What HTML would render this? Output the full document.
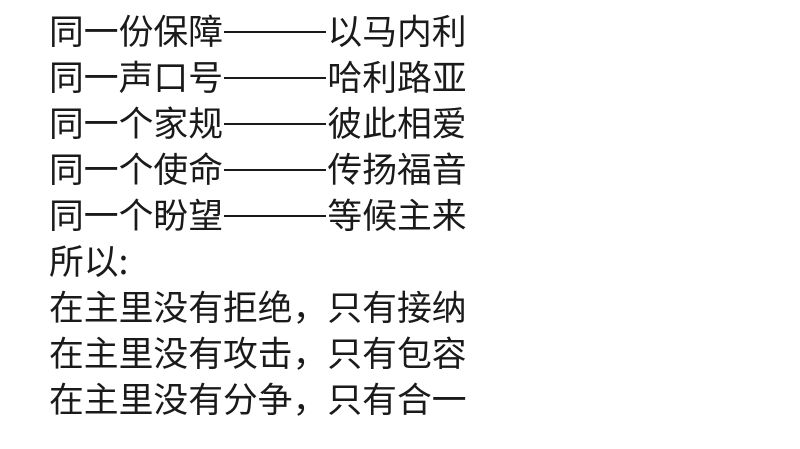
<!DOCTYPE html>
<html><head><meta charset="utf-8"><style>
html,body{margin:0;padding:0;background:#fff;width:800px;height:449px;overflow:hidden}
.t{position:absolute;left:49px;font-family:"Noto Sans CJK SC",sans-serif;font-size:34.8px;line-height:46px;color:#1a1a1a;white-space:nowrap}
.d{display:inline-block;width:104.4px;height:46px;vertical-align:top;position:relative;color:transparent;overflow:hidden}
.d:after{content:"";position:absolute;left:1px;right:1px;top:24px;height:2px;background:#1a1a1a}
</style></head><body>
<div class="t" style="top:7px">同一份保障<span class="d">一</span>以马内利</div>
<div class="t" style="top:53px">同一声口号<span class="d">一</span>哈利路亚</div>
<div class="t" style="top:99px">同一个家规<span class="d">一</span>彼此相爱</div>
<div class="t" style="top:145px">同一个使命<span class="d">一</span>传扬福音</div>
<div class="t" style="top:191px">同一个盼望<span class="d">一</span>等候主来</div>
<div class="t" style="top:237px">所以:</div>
<div class="t" style="top:283px">在主里没有拒绝，只有接纳</div>
<div class="t" style="top:329px">在主里没有攻击，只有包容</div>
<div class="t" style="top:375px">在主里没有分争，只有合一</div>
</body></html>
